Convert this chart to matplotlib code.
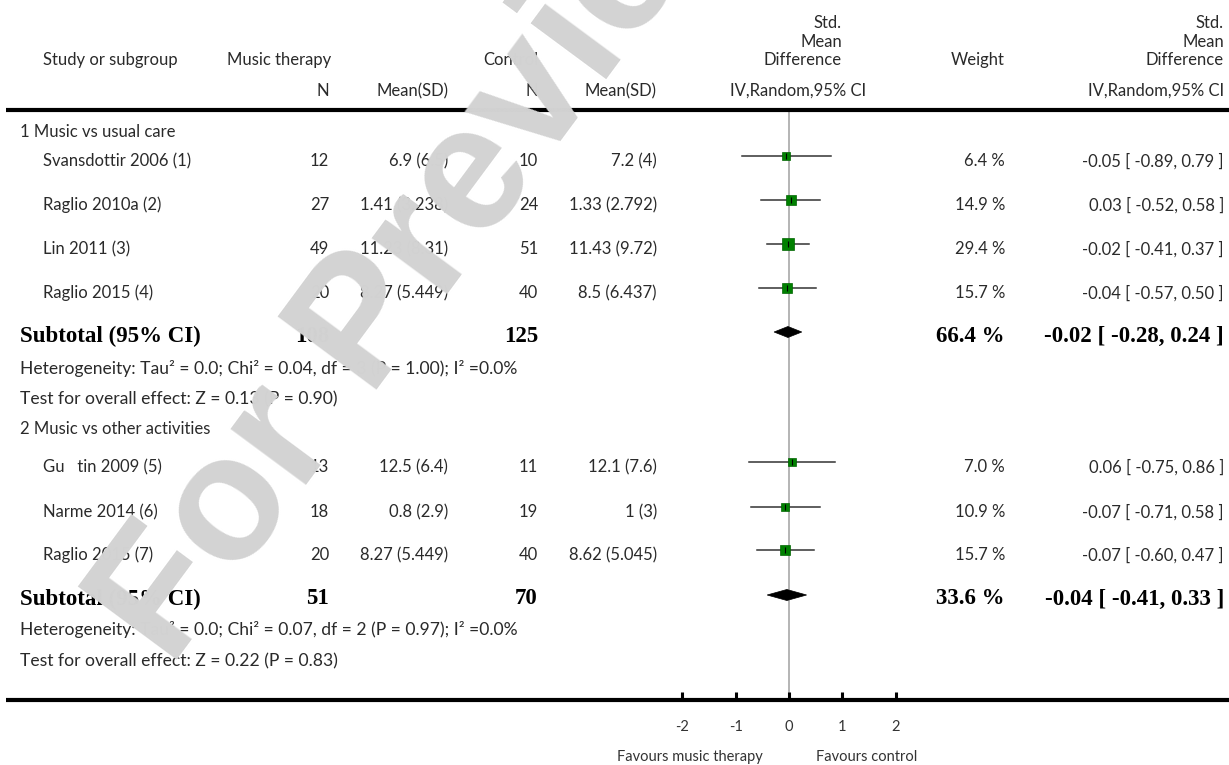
import matplotlib
matplotlib.use("Agg")
import matplotlib.pyplot as plt
from matplotlib.patches import Polygon

# ---------------- data ----------------
group_titles = ["1 Music vs usual care", "2 Music vs other activities"]
studies = ["Svansdottir 2006 (1)", "Raglio 2010a (2)", "Lin 2011 (3)", "Raglio 2015 (4)",
           "Gu   tin 2009 (5)", "Narme 2014 (6)", "Raglio 2015 (7)"]
study_group = [0, 0, 0, 0, 1, 1, 1]
n_music = [12, 27, 49, 20, 13, 18, 20]
mean_music = [6.9, 1.41, 11.23, 8.27, 12.5, 0.8, 8.27]
sd_music = [6.5, 3.238, 8.31, 5.449, 6.4, 2.9, 5.449]
n_control = [10, 24, 51, 40, 11, 19, 40]
mean_control = [7.2, 1.33, 11.43, 8.5, 12.1, 1, 8.62]
sd_control = [4, 2.792, 9.72, 6.437, 7.6, 3, 5.045]
smd = [-0.05, 0.03, -0.02, -0.04, 0.06, -0.07, -0.07]
ci_low = [-0.89, -0.52, -0.41, -0.57, -0.75, -0.71, -0.60]
ci_high = [0.79, 0.58, 0.37, 0.50, 0.86, 0.58, 0.47]
weights = [6.4, 14.9, 29.4, 15.7, 7.0, 10.9, 15.7]

sub_n_music = [108, 51]
sub_n_control = [125, 70]
sub_smd = [-0.02, -0.04]
sub_low = [-0.28, -0.41]
sub_high = [0.24, 0.33]
sub_weight = [66.4, 33.6]
heterogeneity = ["Heterogeneity: Tau\u00b2 = 0.0; Chi\u00b2 = 0.04, df = 3 (P = 1.00); I\u00b2 =0.0%",
                 "Heterogeneity: Tau\u00b2 = 0.0; Chi\u00b2 = 0.07, df = 2 (P = 0.97); I\u00b2 =0.0%"]
overall = ["Test for overall effect: Z = 0.13 (P = 0.90)",
           "Test for overall effect: Z = 0.22 (P = 0.83)"]
tick_values = [-2, -1, 0, 1, 2]
tick_labels = ["-2", "-1", "0", "1", "2"]

# ---------------- layout ----------------
W, H = 1229, 765
fig = plt.figure(figsize=(W / 100, H / 100), dpi=100)

X0, SCALE = 789.0, 53.3           # pixel of SMD = 0, pixels per SMD unit
axf = fig.add_axes([0, 0, 1, 1], zorder=1)
axf.set_xlim(-X0 / SCALE, (W - X0) / SCALE)
axf.set_ylim(H, 0)
axf.axis("off")

axt = fig.add_axes([0, 0, 1, 1], zorder=2)
axt.set_xlim(0, W)
axt.set_ylim(H, 0)
axt.axis("off")
axt.patch.set_alpha(0)

SANS = "Lato"
TXT = "#2a2a2a"
FS = 12
BOLD = dict(family="Liberation Serif", fontweight="bold", fontsize=16.5, color="black")

def t(x, y, s, ha="left", **kw):
    d = dict(family=SANS, fontsize=FS, color=TXT)
    d.update(kw)
    axt.text(x, y, s, ha=ha, va="center", **d)

# column anchors
X_GRP, X_STUDY = 20, 43
X_NM, X_MM, X_NC, X_MC = 329, 448, 538, 657
X_FH, X_W, X_CI = 842, 1005, 1224

# header
t(X_STUDY, 60, "Study or subgroup")
t(227, 60, "Music therapy")
t(X_NC, 60, "Control", ha="right")
t(X_NM, 91, "N", ha="right")
t(X_MM, 91, "Mean(SD)", ha="right")
t(X_NC, 91, "N", ha="right")
t(X_MC, 91, "Mean(SD)", ha="right")
for xr in (X_FH, X_CI):
    t(xr, 23, "Std.", ha="right")
    t(xr, 42, "Mean", ha="right")
    t(xr, 60, "Difference", ha="right")
t(798, 91, "IV,Random,95% CI", ha="center")
t(X_CI, 91, "IV,Random,95% CI", ha="right")
t(X_W, 60, "Weight", ha="right")

axt.plot([6, W], [110, 110], color="black", lw=3.0, solid_capstyle="butt")
axt.plot([6, W], [700, 700], color="black", lw=3.0, solid_capstyle="butt")

# rows
group_rows = [132, 429]
study_rows = [161, 205, 249, 293, 467, 512, 555]
sub_rows = [336, 599]
het_rows = [368, 630]
ovr_rows = [399, 661]

for g in range(2):
    t(X_GRP, group_rows[g], group_titles[g])
    axt.text(X_GRP, sub_rows[g], "Subtotal (95% CI)", ha="left", va="center", **BOLD)
    axt.text(X_NM, sub_rows[g], str(sub_n_music[g]), ha="right", va="center", **BOLD)
    axt.text(X_NC, sub_rows[g], str(sub_n_control[g]), ha="right", va="center", **BOLD)
    axt.text(X_W, sub_rows[g], f"{sub_weight[g]:.1f} %", ha="right", va="center", **BOLD)
    axt.text(X_CI, sub_rows[g], f"{sub_smd[g]:.2f} [ {sub_low[g]:.2f}, {sub_high[g]:.2f} ]",
             ha="right", va="center", **BOLD)
    t(X_GRP, het_rows[g], heterogeneity[g], fontsize=12.6)
    t(X_GRP, ovr_rows[g], overall[g], fontsize=12.6)
    # diamond
    yd = sub_rows[g] - 4
    dia = Polygon([(sub_low[g], yd), (sub_smd[g], yd - 5.5), (sub_high[g], yd), (sub_smd[g], yd + 5.5)],
                  closed=True, facecolor="black", edgecolor="black", lw=0.5, zorder=4)
    axf.add_patch(dia)

for i, name in enumerate(studies):
    y = study_rows[i]
    t(X_STUDY, y, name)
    t(X_NM, y, str(n_music[i]), ha="right")
    t(X_MM, y, f"{mean_music[i]:g} ({sd_music[i]:g})", ha="right")
    t(X_NC, y, str(n_control[i]), ha="right")
    t(X_MC, y, f"{mean_control[i]:g} ({sd_control[i]:g})", ha="right")
    t(X_W, y, f"{weights[i]:.1f} %", ha="right")
    t(X_CI, y, f"{smd[i]:.2f} [ {ci_low[i]:.2f}, {ci_high[i]:.2f} ]", ha="right")
    ym = y - 5
    axf.plot([ci_low[i], ci_high[i]], [ym, ym], color="#333333", lw=1.1, zorder=3)
    side_px = 4.5 + 1.2 * weights[i] ** 0.5
    axf.plot(smd[i], ym, marker="s", ms=side_px * 0.72, color="#008000", mec="#006400", mew=0.5, zorder=5)
    axf.plot(smd[i], ym, marker="|", ms=4, color="black", mew=0.8, zorder=6)

# zero line
axf.plot([0, 0], [111, 700], color="#a8a8a8", lw=1.2, zorder=2)

# ticks
for v, lab in zip(tick_values, tick_labels):
    axf.plot([v, v], [692, 700], color="black", lw=2.2, solid_capstyle="butt", zorder=3)
    axf.text(v, 727, lab, ha="center", va="center", family=SANS, fontsize=10.5, color="#333333")
axf.text(-0.5, 757, "Favours music therapy", ha="right", va="center", family=SANS, fontsize=10.5, color="#333333")
axf.text(0.5, 757, "Favours control", ha="left", va="center", family=SANS, fontsize=10.5, color="#333333")

# watermark
axt.text(170, 669, "For Preview", rotation=53.5, rotation_mode="anchor", ha="left", va="baseline",
         family="Liberation Sans", fontweight="bold", fontsize=128, color="#d3d3d3", zorder=20)

fig.savefig("out.png", dpi=100)
